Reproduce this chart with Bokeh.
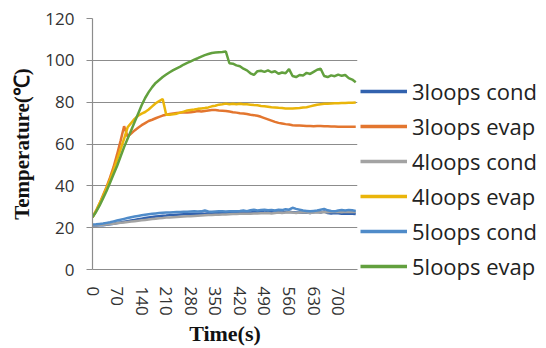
from bokeh.plotting import figure
from bokeh.layouts import row
from bokeh.models import FixedTicker, Range1d, Legend, LegendItem
from bokeh.embed import file_html
from bokeh.resources import INLINE

# Sampling times (s)
time_s = list(range(0, 760, 10))

# Condenser / evaporator temperatures (deg C) for 3, 4 and 5 loops
cond_3loops = [21.0, 21.0, 21.1, 21.2, 21.4, 21.6, 21.9, 22.2, 22.5, 22.8,
               23.1, 23.4, 23.7, 24.0, 24.3, 24.6, 24.9, 25.1, 25.3, 25.5,
               25.7, 25.8, 26.0, 26.1, 26.2, 26.3, 26.4, 26.5, 26.6, 26.7,
               26.6, 26.8, 26.7, 26.9, 26.8, 27.0, 26.9, 27.0, 27.1, 27.0,
               27.2, 27.1, 27.3, 27.2, 27.4, 27.3, 27.5, 27.4, 27.6, 27.3,
               27.5, 27.4, 27.2, 27.4, 27.3, 27.5, 27.6, 27.4, 27.2, 27.3,
               27.1, 27.2, 27.0, 27.4, 27.6, 27.2, 27.8, 27.0, 26.8, 27.0,
               26.9, 26.7, 26.8, 26.6, 26.7, 26.5]
evap_3loops = [25.0, 28.0, 31.5, 35.5, 39.5, 44.0, 49.0, 55.0, 61.5, 68.5,
               63.5, 65.0, 66.5, 67.8, 69.0, 70.0, 71.0, 71.6, 72.3, 73.0,
               73.6, 74.0, 74.3, 74.6, 74.8, 75.0, 75.2, 75.0, 75.2, 75.4,
               75.8, 75.5, 75.8, 76.0, 76.2, 76.2, 76.0, 75.9, 75.8, 75.5,
               75.2, 75.0, 74.7, 74.6, 74.3, 74.0, 73.8, 73.5, 73.0, 72.4,
               71.8, 71.2, 70.6, 70.1, 69.8, 69.5, 69.3, 69.0, 68.9, 68.8,
               68.7, 68.6, 68.6, 68.5, 68.6, 68.6, 68.5, 68.5, 68.4, 68.4,
               68.3, 68.3, 68.3, 68.2, 68.2, 68.2]
cond_4loops = [21.2, 21.2, 21.3, 21.4, 21.5, 21.7, 21.9, 22.1, 22.3, 22.5,
               22.7, 22.9, 23.1, 23.3, 23.5, 23.7, 23.9, 24.1, 24.3, 24.5,
               24.6, 24.8, 24.9, 25.0, 25.1, 25.2, 25.3, 25.4, 25.5, 25.6,
               25.7, 25.8, 25.9, 26.0, 26.1, 26.2, 26.2, 26.3, 26.3, 26.4,
               26.5, 26.5, 26.6, 26.6, 26.7, 26.7, 26.8, 26.8, 26.9, 26.9,
               27.0, 26.8, 27.0, 27.2, 27.0, 27.2, 27.4, 27.2, 27.0, 27.2,
               27.4, 27.2, 27.0, 27.2, 27.4, 27.3, 27.5, 27.4, 27.6, 27.5,
               27.6, 27.4, 27.6, 27.5, 27.6, 27.5]
evap_4loops = [25.0, 28.0, 31.5, 35.0, 39.0, 43.0, 47.5, 52.5, 57.5, 62.5,
               68.0, 70.0, 72.0, 73.5, 74.5, 75.3, 76.5, 78.0, 79.5, 80.5,
               81.5, 74.0, 74.0, 74.2, 74.5, 75.0, 75.5, 76.0, 76.3, 76.5,
               76.8, 77.0, 77.2, 77.5, 78.0, 78.3, 78.8, 79.0, 79.3, 79.0,
               79.2, 79.0, 79.2, 79.0, 79.0, 78.8, 78.6, 78.5, 78.2, 78.0,
               77.8, 77.6, 77.5, 77.3, 77.2, 77.0, 77.0, 77.0, 77.1, 77.2,
               77.4, 77.6, 78.0, 78.4, 78.8, 79.0, 79.2, 79.3, 79.4, 79.5,
               79.5, 79.6, 79.6, 79.7, 79.7, 79.8]
cond_5loops = [21.5, 21.6, 21.8, 22.0, 22.3, 22.6, 23.0, 23.4, 23.8, 24.2,
               24.6, 25.0, 25.3, 25.6, 25.9, 26.2, 26.4, 26.6, 26.8, 27.0,
               27.1, 27.2, 27.3, 27.4, 27.5, 27.5, 27.6, 27.6, 27.7, 27.8,
               27.7, 27.8, 28.2, 27.7, 27.6, 27.7, 27.8, 27.8, 27.7, 27.9,
               27.8, 27.9, 28.0, 28.2, 27.9, 28.3, 28.6, 28.2, 28.4, 28.6,
               28.3, 28.5, 28.2, 28.6, 28.4, 28.8, 28.6, 29.5, 29.0, 28.6,
               28.2, 28.0, 27.8, 28.0, 28.2, 28.6, 29.0, 28.3, 28.0, 27.8,
               28.2, 28.4, 28.2, 28.5, 28.3, 28.0]
evap_5loops = [25.0, 27.5, 30.5, 34.0, 37.5, 41.5, 45.5, 49.5, 54.0, 58.5,
               62.5, 66.5, 70.5, 74.5, 78.5, 82.0, 84.8, 87.2, 89.2, 90.6,
               92.0, 93.2, 94.3, 95.3, 96.2, 97.0, 98.0, 98.8, 99.5, 100.3,
               101.0, 101.8, 102.5, 103.0, 103.5, 103.7, 103.9, 104.0, 104.2, 98.6,
               98.4, 97.6, 97.2, 96.0, 95.2, 93.8, 93.0, 94.8, 95.0, 94.5,
               95.2, 94.3, 94.8, 93.6, 94.2, 93.8, 95.8, 92.5, 92.0, 93.0,
               92.8, 94.0, 93.5, 94.5, 95.5, 96.0, 92.5, 92.0, 92.8, 92.4,
               93.2, 92.6, 93.0, 91.5, 90.8, 89.5]

series_names = ["3loops cond", "3loops evap", "4loops cond",
                "4loops evap", "5loops cond", "5loops evap"]
series_values = [cond_3loops, evap_3loops, cond_4loops,
                 evap_4loops, cond_5loops, evap_5loops]
series_colors = ["#3262ae", "#e3762f", "#a3a3a3",
                 "#eab50a", "#4f8bc9", "#62a03e"]

x_ticks = list(range(0, 701, 70))
y_ticks = list(range(0, 121, 20))

# Main chart
p = figure(width=360, height=348, output_backend="svg", toolbar_location=None,
           x_range=Range1d(0, 755), y_range=Range1d(0, 120),
           min_border_left=92, min_border_right=3,
           min_border_top=18, min_border_bottom=78)
p.background_fill_color = "white"
p.border_fill_color = "white"
p.outline_line_color = None

for vals, col in zip(series_values, series_colors):
    p.line(time_s, vals, line_color=col, line_width=2.5)

grid_col = "#8c8c8c"
p.xgrid.visible = False
p.ygrid.ticker = FixedTicker(ticks=y_ticks)
p.ygrid.grid_line_color = grid_col
p.ygrid.grid_line_width = 1.2

xax = p.xaxis[0]
yax = p.yaxis[0]
xax.ticker = FixedTicker(ticks=x_ticks)
yax.ticker = FixedTicker(ticks=y_ticks)
for ax in (xax, yax):
    ax.axis_line_color = grid_col
    ax.axis_line_width = 1.2
    ax.minor_tick_line_color = None
    ax.major_label_text_font = "Open Sans"
    ax.major_label_text_font_size = "17px"
    ax.major_label_text_color = "#333333"
    ax.axis_label_text_font = "Liberation Serif"
    ax.axis_label_text_font_style = "bold"
    ax.axis_label_text_color = "#111111"

xax.major_tick_line_color = None
xax.major_label_orientation = "vertical"
xax.major_label_standoff = 11
xax.axis_label = "Time(s)"
xax.axis_label_text_font_size = "22px"
xax.axis_label_standoff = 2

yax.major_tick_line_color = grid_col
yax.major_tick_out = 6
yax.major_tick_in = 0
yax.major_label_standoff = 12
yax.axis_label = "Temperature(℃)"
yax.axis_label_text_font_size = "21px"
yax.axis_label_standoff = 8

# Legend panel beside the chart; its renderers lie outside its own view
leg_fig = figure(width=186, height=348, output_backend="svg", toolbar_location=None,
                 x_range=Range1d(-2, -1), y_range=Range1d(-2, -1),
                 x_axis_location=None, y_axis_location=None,
                 min_border=0)
leg_fig.outline_line_color = None
leg_fig.background_fill_color = "white"
leg_fig.border_fill_color = "white"
leg_fig.grid.visible = False

items = []
for name, vals, col in zip(series_names, series_values, series_colors):
    r = leg_fig.line(time_s, vals, line_color=col, line_width=3.5)
    items.append(LegendItem(label=name, renderers=[r]))

# a blank tiny title pushes the entries down level with the curves
lg = Legend(items=items, location="top_left", title=" ")
lg.title_text_font_size = "2px"
lg.title_standoff = 56
lg.border_line_color = None
lg.background_fill_alpha = 0
lg.padding = 10
lg.margin = 0
lg.spacing = 5
lg.glyph_width = 47
lg.glyph_height = 20
lg.label_height = 30
lg.label_standoff = 5
lg.label_text_font = "Open Sans"
lg.label_text_font_size = "22px"
lg.label_text_color = "#222222"
leg_fig.add_layout(lg, "left")

open("out.html", "w").write(file_html(row(p, leg_fig), INLINE))
